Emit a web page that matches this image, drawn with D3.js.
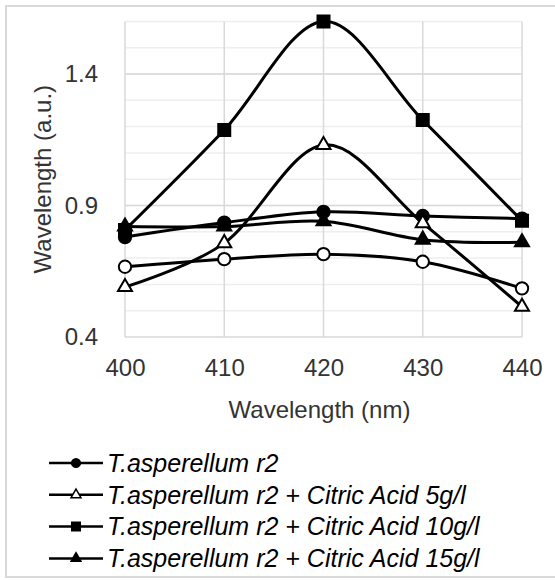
<!DOCTYPE html>
<html>
<head>
<meta charset="utf-8">
<script src="https://cdn.jsdelivr.net/npm/d3@7"></script>
<style>
  body { margin: 0; background: #fff; }
  text { font-family: "Liberation Sans", Arial, sans-serif; }
</style>
</head>
<body>
<div id="chart"></div>
<script>
// data
const wavelengths = [400, 410, 420, 430, 440];
const r2 = [0.78, 0.835, 0.876, 0.86, 0.85];
const ca5 = [0.59, 0.757, 1.13, 0.833, 0.515];
const ca10 = [0.807, 1.187, 1.6, 1.225, 0.842];
const ca15 = [0.82, 0.82, 0.84, 0.77, 0.76];
const openCircle = [0.667, 0.696, 0.715, 0.686, 0.585];
const yTicks = [0.4, 0.9, 1.4];
const legendLabels = [
    "T.asperellum r2",
    "T.asperellum r2 + Citric Acid 5g/l",
    "T.asperellum r2 + Citric Acid 10g/l",
    "T.asperellum r2 + Citric Acid 15g/l"
];

const series = [
    {values: openCircle, symbol: d3.symbolCircle, size: 120, fill: "white", legend: false},
    {values: ca15, symbol: d3.symbolTriangle, size: 85, fill: "black", legend: 3},
    {values: r2, symbol: d3.symbolCircle, size: 120, fill: "black", legend: 0},
    {values: ca5, symbol: d3.symbolTriangle, size: 85, fill: "white", legend: 1},
    {values: ca10, symbol: d3.symbolSquare, size: 144, fill: "black", legend: 2}
];

const W = 555, H = 580;
const margin = {top: 21.4, left: 125, right: 33, bottom: 243};
const width = W - margin.left - margin.right;
const height = H - margin.top - margin.bottom;

const svg = d3.select("#chart").append("svg")
    .attr("width", W)
    .attr("height", H);

// chart border
svg.append("rect")
    .attr("x", 6).attr("y", 6)
    .attr("width", 570).attr("height", 571)
    .attr("fill", "none")
    .attr("stroke", "#d9d9d9")
    .attr("stroke-width", 2);

const g = svg.append("g")
    .attr("transform", `translate(${margin.left},${margin.top})`);

const x = d3.scaleLinear().domain([400, 440]).range([0, width]);
const y = d3.scaleLinear().domain([0.4, 1.6]).range([height, 0]);

// minor gridlines
g.append("g")
    .selectAll("line")
    .data(d3.range(0.5, 1.65, 0.1))
    .join("line")
    .attr("x1", 0).attr("x2", width)
    .attr("y1", d => y(d)).attr("y2", d => y(d))
    .attr("stroke", "#eeeeee")
    .attr("stroke-width", 1.5);

// major gridlines
g.append("g")
    .selectAll("line")
    .data(yTicks)
    .join("line")
    .attr("x1", 0).attr("x2", width)
    .attr("y1", d => y(d)).attr("y2", d => y(d))
    .attr("stroke", "#d9d9d9")
    .attr("stroke-width", 1.5);

g.append("g")
    .selectAll("line")
    .data(wavelengths)
    .join("line")
    .attr("x1", d => x(d)).attr("x2", d => x(d))
    .attr("y1", 0).attr("y2", height)
    .attr("stroke", "#d9d9d9")
    .attr("stroke-width", 1.5);

// axes
const xAxis = d3.axisBottom(x).tickValues(wavelengths).tickSize(0).tickPadding(22);
const yAxis = d3.axisLeft(y).tickValues(yTicks).tickSize(0).tickPadding(27).tickFormat(d3.format(".1f"));

const xg = g.append("g").attr("transform", `translate(0,${height})`).call(xAxis);
const yg = g.append("g").call(yAxis);
[xg, yg].forEach(a => {
    a.select(".domain").remove();
    a.selectAll("text")
        .style("font-size", "24px")
        .style("font-family", "Liberation Sans, Arial, sans-serif")
        .attr("fill", "#333");
});

svg.append("text")
    .attr("x", margin.left + width / 2 - 4)
    .attr("y", 418)
    .attr("text-anchor", "middle")
    .style("font-size", "24px")
    .attr("fill", "#333")
    .text("Wavelength (nm)");

svg.append("text")
    .attr("transform", `translate(51,${margin.top + height / 2}) rotate(-90)`)
    .attr("text-anchor", "middle")
    .style("font-size", "24px")
    .attr("fill", "#333")
    .text("Wavelength (a.u.)");

// lines
const line = d3.line()
    .x((d, i) => x(wavelengths[i]))
    .y(d => y(d))
    .curve(d3.curveCatmullRom.alpha(0));

g.append("g")
    .selectAll("path")
    .data(series)
    .join("path")
    .attr("d", d => line(d.values))
    .attr("fill", "none")
    .attr("stroke", "black")
    .attr("stroke-width", 3);

// markers
series.forEach(s => {
    g.append("g")
        .selectAll("path")
        .data(s.values)
        .join("path")
        .attr("transform", (d, i) => `translate(${x(wavelengths[i])},${y(d)})`)
        .attr("d", d3.symbol().type(s.symbol).size(s.size))
        .attr("fill", s.fill)
        .attr("stroke", "black")
        .attr("stroke-width", 2);
});

// legend
const legendOrder = series.filter(s => s.legend !== false).sort((a, b) => a.legend - b.legend);
const leg = svg.append("g")
    .selectAll("g")
    .data(legendOrder)
    .join("g")
    .attr("transform", (d, i) => `translate(0,${463 + i * 31.8})`);

leg.append("line")
    .attr("x1", 49).attr("x2", 103)
    .attr("stroke", "black")
    .attr("stroke-width", 2.5);

leg.append("path")
    .attr("transform", "translate(76,0)")
    .attr("d", d => d3.symbol().type(d.symbol).size(d.size * 0.5)())
    .attr("fill", d => d.fill)
    .attr("stroke", "black")
    .attr("stroke-width", 1.5);

leg.append("text")
    .attr("x", 107)
    .attr("dy", "0.35em")
    .style("font-size", "25px")
    .style("font-style", "italic")
    .attr("fill", "black")
    .text(d => legendLabels[d.legend]);
</script>
</body>
</html>
